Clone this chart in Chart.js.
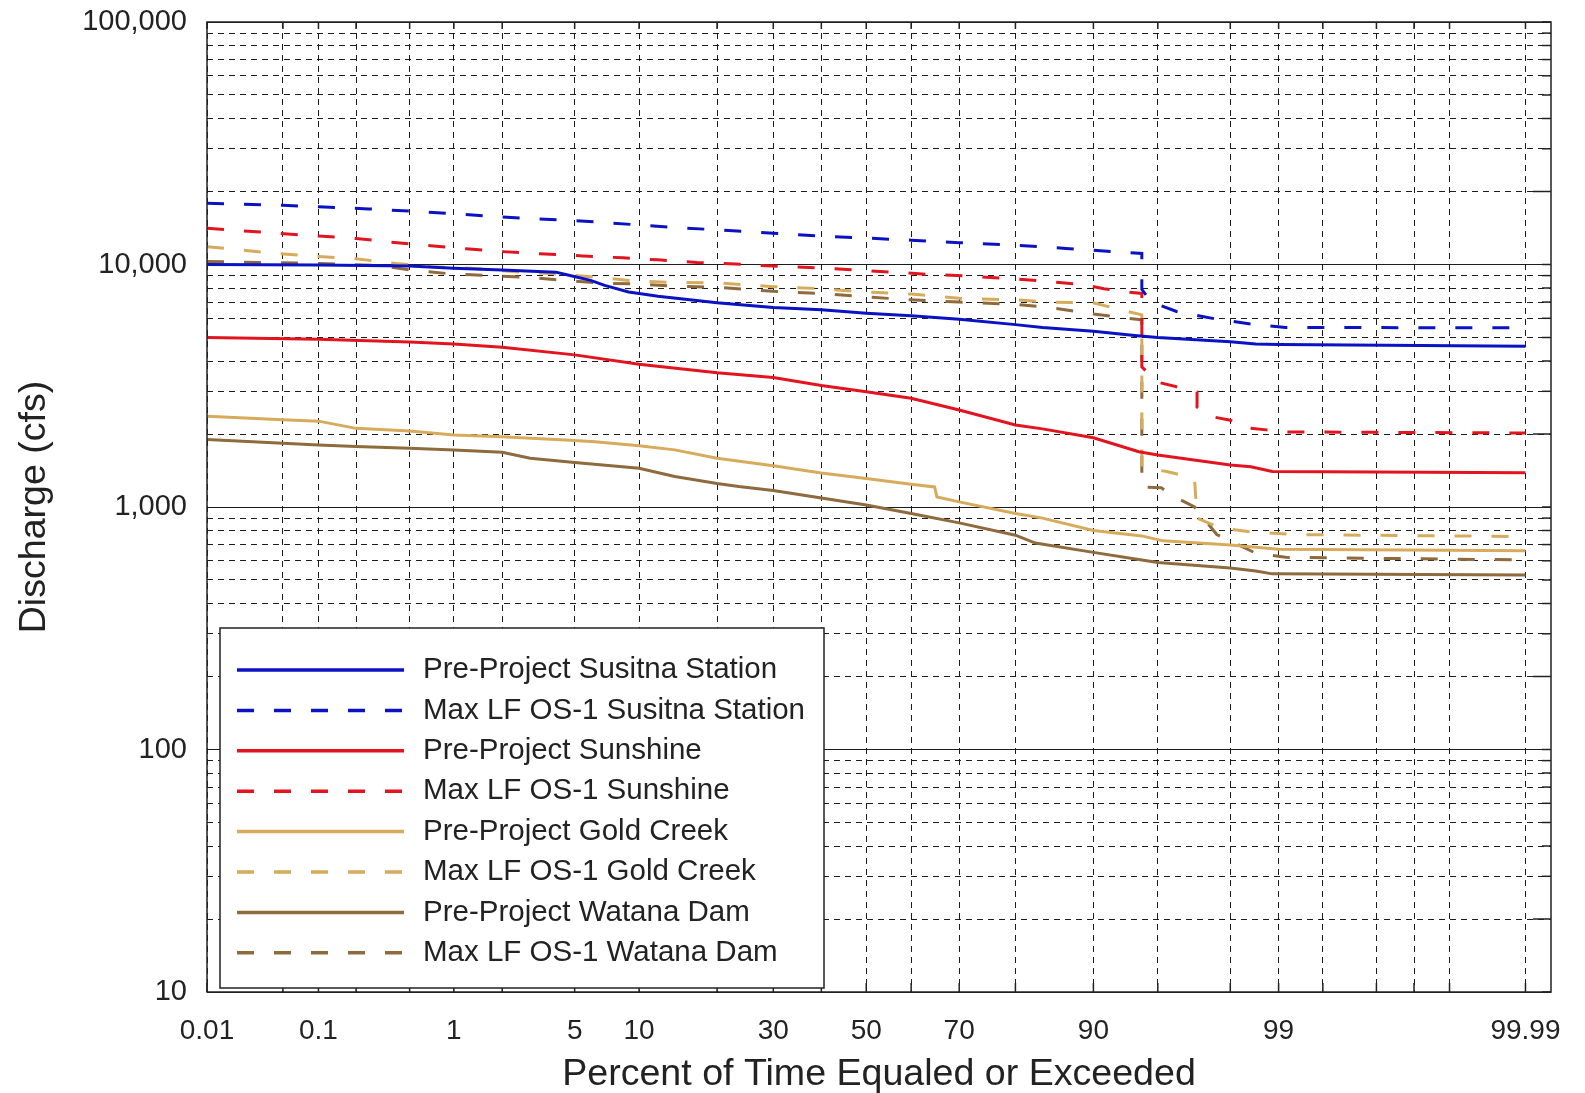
<!DOCTYPE html>
<html>
<head>
<meta charset="utf-8">
<title>Flow duration - Susitna</title>
<script src="https://cdn.jsdelivr.net/npm/chart.js@4.4.1/dist/chart.umd.min.js"></script>
<style>
  html, body { margin: 0; padding: 0; background: #fff; }
  #wrap { width: 1585px; height: 1093px; position: relative; }
</style>
</head>
<body>
<div id="wrap"><canvas id="fdc"></canvas></div>
<script>
// Percent of time equaled or exceeded (x) and discharge in cfs (y)
const susPrePct = [0.01, 0.1, 0.5, 1, 2, 4, 4.5, 6, 7, 9, 10, 12, 20, 30, 40, 50, 60, 70, 80, 84, 90, 93.5, 95, 98, 98.6, 99, 99.99];
const susPreQ   = [10000, 9950, 9850, 9650, 9500, 9300, 9100, 8600, 8200, 7700, 7600, 7400, 6950, 6650, 6500, 6300, 6150, 5950, 5650, 5500, 5300, 5100, 5000, 4800, 4700, 4680, 4600];

const susMaxPct = [0.01, 0.05, 0.1, 0.25, 0.5, 1, 2, 3, 5, 7, 10, 15, 20, 30, 40, 50, 60, 70, 80, 87, 90, 94, 94, 94.6, 96, 97.6, 98.6, 99.1, 99.99];
const susMaxQ   = [17900, 17550, 17300, 16950, 16600, 16200, 15700, 15450, 15150, 14900, 14550, 14150, 13900, 13450, 13100, 12850, 12600, 12300, 12000, 11650, 11450, 11100, 7900, 7000, 6400, 5950, 5650, 5500, 5480];

const sunPrePct = [0.01, 0.1, 0.5, 1, 2, 5, 10, 20, 30, 40, 50, 60, 70, 80, 84, 90, 93.8, 95, 98, 98.5, 98.9, 99.99];
const sunPreQ   = [5000, 4920, 4790, 4700, 4560, 4240, 3880, 3580, 3420, 3170, 2990, 2810, 2510, 2180, 2100, 1930, 1690, 1640, 1490, 1465, 1400, 1385];

const sunMaxPct = [0.01, 0.02, 0.045, 0.1, 0.2, 0.35, 0.7, 1.2, 2, 3.5, 5.5, 8.5, 12, 17, 23, 30, 39, 47, 56, 64, 72, 79, 85, 89, 91, 93, 94, 94, 95, 96, 96.9, 96.9, 97.5, 98, 98.4, 98.8, 99.1, 99.99];
const sunMaxQ   = [14100, 13800, 13450, 13100, 12800, 12400, 11950, 11600, 11300, 11050, 10850, 10650, 10450, 10200, 10050, 9850, 9700, 9500, 9300, 9100, 8950, 8750, 8500, 8250, 7950, 7700, 7600, 3780, 3270, 3130, 2980, 2580, 2350, 2280, 2120, 2080, 2040, 2020];

const goldPrePct = [0.01, 0.05, 0.1, 0.2, 0.5, 1, 2, 5, 6.3, 10, 14, 20, 30, 40, 50, 60, 65, 65.5, 70, 80, 84, 90, 94, 95.3, 98, 99, 99.99];
const goldPreQ   = [2370, 2290, 2260, 2110, 2060, 1980, 1950, 1880, 1860, 1790, 1720, 1590, 1480, 1380, 1310, 1240, 1210, 1100, 1050, 940, 900, 800, 760, 725, 697, 670, 660];

const goldMaxPct = [0.01, 0.02, 0.045, 0.1, 0.2, 0.4, 0.7, 1.3, 2.3, 4, 6, 9, 13, 20, 30, 40, 50, 60, 70, 80, 85, 90, 93, 94, 94, 94.5, 95.5, 96.3, 96.8, 96.9, 97.7, 98.5, 99.2, 99.99];
const goldMaxQ   = [11850, 11500, 11100, 10800, 10550, 10100, 9800, 9650, 9350, 9150, 8900, 8600, 8450, 8400, 8100, 7950, 7700, 7550, 7250, 7150, 7000, 6950, 6400, 6200, 1470, 1440, 1400, 1350, 1300, 900, 820, 790, 770, 755];

const watPrePct = [0.01, 0.05, 0.1, 0.2, 0.5, 1, 2, 2.9, 5, 10, 14, 20, 23.6, 30, 40, 50, 60, 70, 80, 83, 90, 94, 95, 98, 98.6, 98.9, 99.99];
const watPreQ   = [1900, 1830, 1800, 1775, 1745, 1720, 1680, 1590, 1525, 1445, 1335, 1250, 1215, 1170, 1090, 1020, 940, 860, 765, 710, 650, 605, 590, 560, 545, 530, 524];

const watMaxPct = [0.01, 0.03, 0.1, 0.3, 0.5, 0.9, 1.5, 2.7, 4.4, 6.9, 10, 14, 20, 30, 40, 50, 60, 70, 80, 85, 90, 93.8, 94, 94, 95.2, 96, 96.8, 97.6, 98.6, 99.1, 99.99];
const watMaxQ   = [10300, 10200, 10100, 9900, 9500, 9180, 9030, 8870, 8600, 8380, 8300, 8150, 8050, 7750, 7600, 7350, 7150, 7000, 6850, 6650, 6250, 5930, 5900, 1210, 1200, 1090, 1000, 770, 645, 620, 605];

const seriesLabels = [
  'Pre-Project Susitna Station', 'Max LF OS-1 Susitna Station',
  'Pre-Project Sunshine', 'Max LF OS-1 Sunshine',
  'Pre-Project Gold Creek', 'Max LF OS-1 Gold Creek',
  'Pre-Project Watana Dam', 'Max LF OS-1 Watana Dam'
];

// axis ticks
const xGridPercents = [0.01, 0.05, 0.1, 0.2, 0.5, 1, 2, 5, 10, 20, 30, 40, 50, 60, 70, 80, 90, 95, 98, 99, 99.5, 99.8, 99.9, 99.95, 99.99];
const xTickPercents = [0.01, 0.1, 1, 5, 10, 30, 50, 70, 90, 99, 99.99];
const yMajorTicks = [10, 100, 1000, 10000, 100000];
const yTickLabels = ['10', '100', '1,000', '10,000', '100,000'];
const yMinorSteps = [2, 3, 4, 5, 6, 7, 8, 9];

const BLUE = '#0b12c4', RED = '#e2141f', GOLD = '#d7ab5c', BROWN = '#8e6a3c';
const DASH = [17, 20];
const FONT = "'Liberation Sans', Arial, sans-serif";

// inverse normal cdf (Acklam)
function probit(p) {
  const a = [-39.69683028665376, 220.9460984245205, -275.9285104469687, 138.3577518672690, -30.66479806614716, 2.506628277459239];
  const b = [-54.47609879822406, 161.5858368580409, -155.6989798598866, 66.80131188771972, -13.28068155288572];
  const c = [-0.007784894002430293, -0.3223964580411365, -2.400758277161838, -2.549732539343734, 4.374664141464968, 2.938163982698783];
  const d = [0.007784695709041462, 0.3224671290700398, 2.445134137142996, 3.754408661907416];
  const pl = 0.02425;
  if (p < pl) {
    const q = Math.sqrt(-2 * Math.log(p));
    return (((((c[0]*q+c[1])*q+c[2])*q+c[3])*q+c[4])*q+c[5]) / ((((d[0]*q+d[1])*q+d[2])*q+d[3])*q+1);
  }
  if (p > 1 - pl) {
    const q = Math.sqrt(-2 * Math.log(1 - p));
    return -(((((c[0]*q+c[1])*q+c[2])*q+c[3])*q+c[4])*q+c[5]) / ((((d[0]*q+d[1])*q+d[2])*q+d[3])*q+1);
  }
  const q = p - 0.5, r = q * q;
  return (((((a[0]*r+a[1])*r+a[2])*r+a[3])*r+a[4])*r+a[5])*q / (((((b[0]*r+b[1])*r+b[2])*r+b[3])*r+b[4])*r+1);
}
function normCdf(z) {
  const t = 1 / (1 + 0.3275911 * Math.abs(z) / Math.SQRT2);
  const y = 1 - (((((1.061405429*t - 1.453152027)*t) + 1.421413741)*t - 0.284496736)*t + 0.254829592)*t * Math.exp(-z*z/2);
  return z >= 0 ? 0.5 * (1 + y) : 0.5 * (1 - y);
}

// normal probability axis
class ProbabilityScale extends Chart.LinearScale {
  determineDataLimits() {
    this.min = this.options.min;
    this.max = this.options.max;
  }
  buildTicks() {
    return xGridPercents.map(v => ({ value: v }));
  }
  configure() {
    super.configure();
    this._zStart = probit(this.min / 100);
    this._zRange = probit(this.max / 100) - this._zStart;
  }
  getPixelForValue(value) {
    if (value === null || value === undefined || isNaN(value)) return NaN;
    return this.getPixelForDecimal((probit(value / 100) - this._zStart) / this._zRange);
  }
  getValueForPixel(pixel) {
    return normCdf(this._zStart + this.getDecimalForPixel(pixel) * this._zRange) * 100;
  }
}
ProbabilityScale.id = 'probability';
ProbabilityScale.defaults = {};
Chart.register(ProbabilityScale);

const isDecade = v => Math.abs(Math.log10(v) - Math.round(Math.log10(v))) < 1e-9;

// frame round the plot plus small inward ticks on the top, bottom and right sides
const plotFrame = {
  id: 'plotFrame',
  afterDatasetsDraw(chart) {
    const { ctx, chartArea: a } = chart;
    ctx.save();
    ctx.strokeStyle = '#222';
    ctx.lineWidth = 1.5;
    ctx.setLineDash([]);
    chart.scales.y.ticks.forEach(t => {
      const py = chart.scales.y.getPixelForValue(t.value);
      const len = t.value / Math.pow(10, Math.floor(Math.log10(t.value) + 1e-9)) === 2 ? 18 : 9;
      ctx.beginPath();
      ctx.moveTo(a.right, py);
      ctx.lineTo(a.right - len, py);
      ctx.stroke();
    });
    chart.scales.x.ticks.forEach(t => {
      const px = chart.scales.x.getPixelForValue(t.value);
      ctx.beginPath();
      ctx.moveTo(px, a.top);
      ctx.lineTo(px, a.top + 7);
      ctx.moveTo(px, a.bottom);
      ctx.lineTo(px, a.bottom - 9);
      ctx.stroke();
    });
    ctx.strokeRect(a.left, a.top, a.right - a.left, a.bottom - a.top);
    ctx.restore();
  }
};

// boxed legend in the lower left of the plot
const boxLegend = {
  id: 'boxLegend',
  afterDraw(chart) {
    const { ctx, chartArea: a } = chart;
    const x0 = a.left + 13, y0 = a.top + 606, w = 604, h = 360;
    ctx.save();
    ctx.fillStyle = '#fff';
    ctx.fillRect(x0, y0, w, h);
    ctx.strokeStyle = '#222';
    ctx.lineWidth = 1.5;
    ctx.strokeRect(x0, y0, w, h);
    ctx.font = '29.5px ' + FONT;
    ctx.textBaseline = 'middle';
    chart.data.datasets.forEach((ds, i) => {
      const y = y0 + 42 + i * 40.4;
      ctx.strokeStyle = ds.borderColor;
      ctx.lineWidth = 3.5;
      ctx.setLineDash(ds.borderDash || []);
      ctx.beginPath();
      ctx.moveTo(x0 + 17, y);
      ctx.lineTo(x0 + 184, y);
      ctx.stroke();
      ctx.setLineDash([]);
      ctx.fillStyle = '#222';
      ctx.fillText(ds.label, x0 + 203, y);
    });
    ctx.restore();
  }
};

function series(label, pct, q, color, dashed) {
  return {
    label: label,
    data: pct.map((p, i) => ({ x: p, y: q[i] })),
    borderColor: color,
    borderWidth: 3,
    borderDash: dashed ? DASH : [],
    pointRadius: 0,
    tension: 0,
    fill: false
  };
}

new Chart(document.getElementById('fdc'), {
  type: 'line',
  data: {
    datasets: [
      series(seriesLabels[0], susPrePct, susPreQ, BLUE, false),
      series(seriesLabels[1], susMaxPct, susMaxQ, BLUE, true),
      series(seriesLabels[2], sunPrePct, sunPreQ, RED, false),
      series(seriesLabels[3], sunMaxPct, sunMaxQ, RED, true),
      series(seriesLabels[4], goldPrePct, goldPreQ, GOLD, false),
      series(seriesLabels[5], goldMaxPct, goldMaxQ, GOLD, true),
      series(seriesLabels[6], watPrePct, watPreQ, BROWN, false),
      series(seriesLabels[7], watMaxPct, watMaxQ, BROWN, true)
    ]
  },
  options: {
    responsive: true,
    maintainAspectRatio: false,
    animation: false,
    layout: { padding: { top: 22, right: 34, left: 0, bottom: 0 } },
    plugins: {
      legend: { display: false },
      tooltip: { enabled: false }
    },
    scales: {
      x: {
        type: 'probability',
        position: 'bottom',
        min: 0.01,
        max: 99.9944,
        afterFit: s => { s.height = 101; },
        grid: { color: '#1c1c1c', lineWidth: 1, drawTicks: false },
        border: { display: false, dash: [6, 5] },
        ticks: {
          autoSkip: false,
          maxRotation: 0,
          padding: 22,
          color: '#222',
          font: { family: FONT, size: 28 },
          callback: v => (xTickPercents.includes(v) ? String(v) : '')
        },
        title: {
          display: true,
          text: 'Percent of Time Equaled or Exceeded',
          color: '#222',
          font: { family: FONT, size: 37.6, lineHeight: 1 },
          padding: { top: 0, bottom: 0 }
        }
      },
      y: {
        type: 'logarithmic',
        min: 10,
        max: 100000,
        afterFit: s => { s.width = 207; s.paddingTop = 0; s.paddingBottom = 0; },
        afterBuildTicks: s => {
          const t = [];
          yMajorTicks.forEach((m, i) => {
            t.push({ value: m });
            if (i < yMajorTicks.length - 1) yMinorSteps.forEach(k => t.push({ value: m * k }));
          });
          s.ticks = t;
        },
        grid: { color: '#1c1c1c', lineWidth: 1, drawTicks: false },
        border: {
          display: false,
          dash: ctx => (ctx.tick && isDecade(ctx.tick.value) ? [] : [6, 5])
        },
        ticks: {
          autoSkip: false,
          padding: 20,
          color: '#222',
          font: { family: FONT, size: 29 },
          callback: v => {
            const i = yMajorTicks.indexOf(v);
            return i >= 0 ? yTickLabels[i] : '';
          }
        },
        title: {
          display: true,
          text: 'Discharge (cfs)',
          color: '#222',
          font: { family: FONT, size: 37.6 },
          padding: { top: 12, bottom: 0 }
        }
      }
    }
  },
  plugins: [plotFrame, boxLegend]
});
</script>
</body>
</html>
